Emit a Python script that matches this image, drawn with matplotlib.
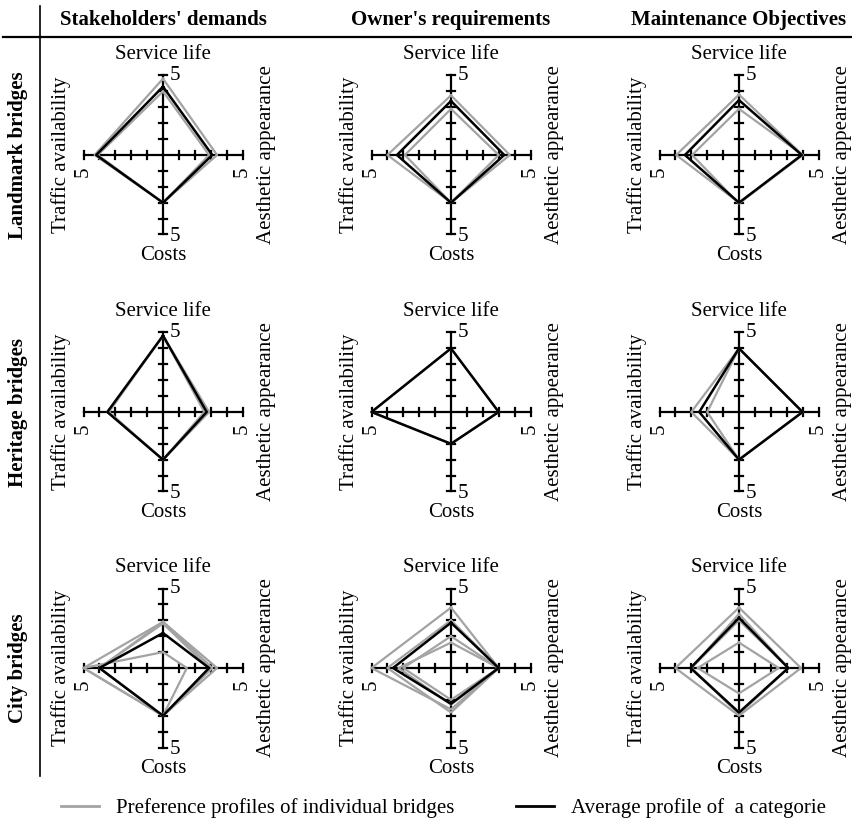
import matplotlib
matplotlib.use("Agg")
import matplotlib.pyplot as plt
from matplotlib.lines import Line2D

plt.rcParams["font.family"] = ["Liberation Serif", "DejaVu Serif"]

# ── data ─────────────────────────────────────────────────────────────────────
# axis order: Service life (up), Aesthetic appearance (right), Costs (down),
#             Traffic availability (left)
columns = ["Stakeholders' demands", "Owner's requirements", "Maintenance Objectives"]
rows = ["Landmark bridges", "Heritage bridges", "City bridges"]
axis_names = ["Service life", "Aesthetic appearance", "Costs", "Traffic availability"]
scale_max = 5

# individual bridge profiles (grey)
landmark_individual = [
    [[4.8, 3.4, 3.0, 4.3], [4.0, 2.9, 3.0, 4.1]],
    [[3.75, 3.7, 3.0, 4.0], [2.9, 3.0, 3.0, 2.9]],
    [[3.8, 4.0, 3.0, 3.95], [2.9, 4.0, 3.05, 2.95]],
]
heritage_individual = [
    [[4.8, 2.9, 3.0, 3.5], [4.8, 2.6, 3.0, 3.4]],
    [[4.0, 3.0, 2.0, 5.0]],
    [[4.0, 4.0, 3.0, 3.0], [4.0, 4.0, 3.0, 2.0]],
]
city_individual = [
    [[1.0, 1.5, 3.0, 5.0], [2.9, 3.4, 3.0, 5.0], [2.9, 3.1, 3.0, 4.0],
     [2.8, 2.9, 3.0, 4.0]],
    [[3.8, 3.0, 2.6, 5.0], [3.0, 3.0, 2.8, 4.0], [2.0, 3.0, 2.0, 3.0],
     [1.6, 3.0, 2.3, 3.3]],
    [[3.8, 3.9, 3.0, 4.0], [3.0, 3.1, 2.9, 3.0], [1.6, 2.5, 1.6, 2.6],
     [3.4, 3.1, 2.8, 3.0]],
]

# category averages (black)
landmark_average = [[4.3, 3.1, 3.0, 4.2], [3.4, 3.35, 3.0, 3.4], [3.45, 3.95, 3.0, 3.4]]
heritage_average = [[4.8, 2.75, 3.0, 3.5], [4.0, 3.0, 2.0, 5.0], [4.0, 4.0, 3.0, 2.5]]
city_average = [[2.2, 2.9, 3.0, 4.0], [2.85, 3.0, 2.25, 3.65], [3.15, 3.1, 2.8, 3.05]]

individual = [landmark_individual, heritage_individual, city_individual]
average = [landmark_average, heritage_average, city_average]

GREY = "#a3a3a3"
FS = 15


def to_xy(vals):
    # up, right, down, left -> closed polygon
    xs = [0, vals[1], 0, -vals[3], 0]
    ys = [vals[0], 0, -vals[2], 0, vals[0]]
    return xs, ys


def draw_radar(ax, profiles, avg):
    ax.plot([-scale_max, scale_max], [0, 0], color="black", lw=1.6, zorder=2)
    ax.plot([0, 0], [-scale_max, scale_max], color="black", lw=1.6, zorder=2)
    t = 0.27
    for k in range(1, scale_max + 1):
        ax.plot([-t, t], [k, k], color="black", lw=1.6, zorder=2)
        ax.plot([-t, t], [-k, -k], color="black", lw=1.6, zorder=2)
        ax.plot([k, k], [-t, t], color="black", lw=1.6, zorder=2)
        ax.plot([-k, -k], [-t, t], color="black", lw=1.6, zorder=2)

    for p in profiles:
        xs, ys = to_xy(p)
        ax.plot(xs, ys, color=GREY, lw=1.6, zorder=3)
    xs, ys = to_xy(avg)
    ax.plot(xs, ys, color="black", lw=1.8, zorder=4)

    # scale labels
    ax.text(0.45, scale_max, "5", fontsize=FS, ha="left", va="center")
    ax.text(0.45, -scale_max - 0.15, "5", fontsize=FS, ha="left", va="center")
    ax.text(-scale_max, -1.05, "5", fontsize=FS, ha="center", va="center", rotation=90)
    ax.text(scale_max, -1.05, "5", fontsize=FS, ha="center", va="center", rotation=90)

    # axis names
    ax.text(0, 6.3, axis_names[0], fontsize=FS, ha="center", va="center")
    ax.text(6.5, 0, axis_names[1], fontsize=FS, ha="center", va="center", rotation=90)
    ax.text(0, -6.3, axis_names[2], fontsize=FS, ha="center", va="center")
    ax.text(-6.4, 0, axis_names[3], fontsize=FS, ha="center", va="center", rotation=90)

    ax.set_xlim(-7.9, 7.9)
    ax.set_ylim(-7.9, 7.9)
    ax.axis("off")


W, H = 852, 822
fig = plt.figure(figsize=(W / 100, H / 100), dpi=100, facecolor="white")

centers_x = [163, 451, 739]
centers_y = [155, 412, 668]
unit = 15.9
half = 7.9 * unit

for i in range(3):
    for j in range(3):
        cx, cy = centers_x[j], centers_y[i]
        ax = fig.add_axes([(cx - half) / W, 1 - (cy + half) / H,
                           2 * half / W, 2 * half / H])
        draw_radar(ax, individual[i][j], average[i][j])

# grid frame lines
fig.add_artist(Line2D([3 / W, 1], [1 - 37 / H, 1 - 37 / H], color="black", lw=1.6))
fig.add_artist(Line2D([40 / W, 40 / W], [1 - 6 / H, 1 - 776 / H], color="black", lw=1.2))

for j, name in enumerate(columns):
    fig.text(centers_x[j] / W, 1 - 20 / H, name, fontsize=FS, fontweight="bold",
             ha="center", va="center")
for i, name in enumerate(rows):
    fig.text(18 / W, 1 - centers_y[i] / H, name, fontsize=FS, fontweight="bold",
             ha="center", va="center", rotation=90)

handles = [Line2D([], [], color=GREY, lw=2), Line2D([], [], color="black", lw=2)]
fig.legend(handles, ["Preference profiles of individual bridges",
                     "Average profile of  a categorie"],
           loc="center left", bbox_to_anchor=(0.072, 1 - 808 / H), ncol=2,
           frameon=False, fontsize=FS, handlelength=1.8, handletextpad=0.8,
           columnspacing=3.0, borderaxespad=0, borderpad=0)

plt.savefig("out.png", dpi=100, facecolor="white")
